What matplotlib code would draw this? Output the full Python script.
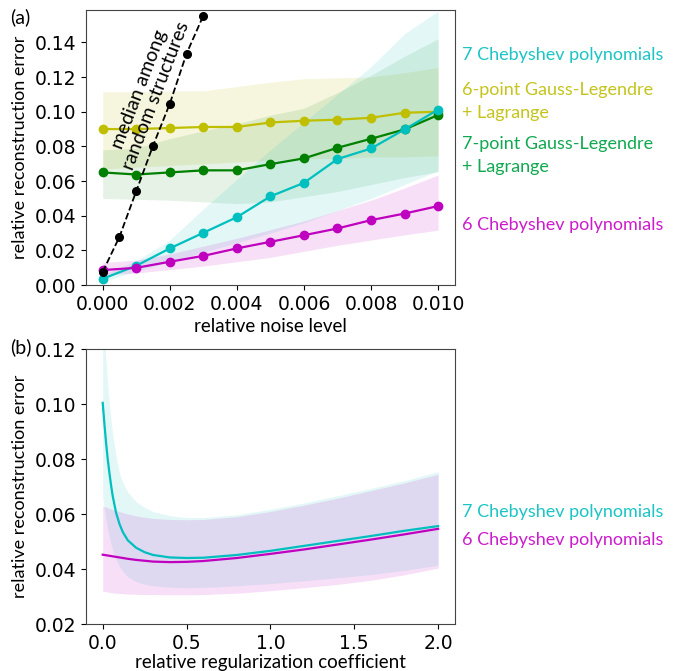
import numpy as np
import matplotlib
matplotlib.use("Agg")
import matplotlib.pyplot as plt

LABEL_FONT = ["Lato", "DejaVu Sans"]

# (a) reconstruction error vs. noise level
noise = [0.000, 0.001, 0.002, 0.003, 0.004, 0.005, 0.006, 0.007, 0.008, 0.009, 0.010]

cheb7 = [0.0037, 0.0112, 0.0212, 0.0302, 0.0392, 0.0512, 0.0590, 0.0727, 0.0788, 0.0898, 0.1012]
cheb7_lo = [0.0020, 0.0080, 0.0135, 0.0190, 0.0245, 0.0300, 0.0360, 0.0430, 0.0500, 0.0580, 0.0660]
cheb7_hi = [0.0060, 0.0140, 0.0260, 0.0440, 0.0610, 0.0780, 0.0940, 0.1100, 0.1260, 0.1450, 0.1580]

gl6 = [0.0900, 0.0900, 0.0906, 0.0912, 0.0912, 0.0938, 0.0948, 0.0954, 0.0965, 0.0994, 0.1000]
gl6_lo = [0.0670, 0.0680, 0.0690, 0.0700, 0.0710, 0.0720, 0.0730, 0.0730, 0.0740, 0.0740, 0.0745]
gl6_hi = [0.1115, 0.1115, 0.1120, 0.1120, 0.1145, 0.1170, 0.1190, 0.1195, 0.1200, 0.1225, 0.1255]

gl7 = [0.0650, 0.0638, 0.0650, 0.0662, 0.0662, 0.0698, 0.0731, 0.0792, 0.0844, 0.0898, 0.0981]
gl7_lo = [0.0500, 0.0495, 0.0490, 0.0480, 0.0470, 0.0480, 0.0510, 0.0540, 0.0580, 0.0620, 0.0654]
gl7_hi = [0.0780, 0.0790, 0.0845, 0.0890, 0.0930, 0.0980, 0.1020, 0.1110, 0.1210, 0.1320, 0.1420]

cheb6 = [0.0087, 0.0100, 0.0135, 0.0169, 0.0212, 0.0250, 0.0288, 0.0327, 0.0375, 0.0413, 0.0456]
cheb6_lo = [0.0060, 0.0070, 0.0090, 0.0110, 0.0135, 0.0160, 0.0195, 0.0230, 0.0260, 0.0290, 0.0317]
cheb6_hi = [0.0130, 0.0145, 0.0180, 0.0225, 0.0270, 0.0320, 0.0370, 0.0430, 0.0490, 0.0560, 0.0635]

random_noise = [0.0000, 0.0005, 0.0010, 0.0015, 0.0020, 0.0025, 0.0030]
random_median = [0.0077, 0.0279, 0.0542, 0.0804, 0.1046, 0.1335, 0.1554]

# (b) reconstruction error vs. regularization coefficient
reg = [0.0, 0.01, 0.02, 0.03, 0.04, 0.05, 0.06, 0.08, 0.1, 0.12, 0.15, 0.2,
       0.25, 0.3, 0.4, 0.5, 0.6, 0.8, 1.0, 1.2, 1.4, 1.6, 1.8, 2.0]

reg_cheb7 = [0.1005, 0.0930, 0.0860, 0.0800, 0.0750, 0.0705, 0.0665, 0.0605,
             0.0565, 0.0535, 0.0505, 0.0478, 0.0462, 0.0452, 0.0443, 0.0441,
             0.0442, 0.0452, 0.0467, 0.0485, 0.0503, 0.0521, 0.0540, 0.0557]
reg_cheb7_lo = [0.0660, 0.0620, 0.0580, 0.0545, 0.0515, 0.0490, 0.0470, 0.0435,
                0.0410, 0.0392, 0.0372, 0.0355, 0.0345, 0.0340, 0.0335, 0.0333,
                0.0334, 0.0340, 0.0348, 0.0358, 0.0369, 0.0381, 0.0396, 0.0415]
reg_cheb7_hi = [0.1350, 0.1250, 0.1160, 0.1070, 0.1000, 0.0940, 0.0890, 0.0810,
                0.0750, 0.0715, 0.0680, 0.0645, 0.0625, 0.0610, 0.0595, 0.0588,
                0.0588, 0.0598, 0.0618, 0.0641, 0.0667, 0.0694, 0.0722, 0.0755]

reg_cheb6 = [0.0453, 0.0452, 0.0451, 0.0450, 0.0449, 0.0448, 0.0447, 0.0445,
             0.0443, 0.0441, 0.0438, 0.0434, 0.0431, 0.0428, 0.0426, 0.0427,
             0.0430, 0.0441, 0.0456, 0.0472, 0.0490, 0.0508, 0.0527, 0.0547]
reg_cheb6_lo = [0.0320, 0.0319, 0.0318, 0.0317, 0.0316, 0.0315, 0.0314, 0.0313,
                0.0312, 0.0311, 0.0310, 0.0309, 0.0308, 0.0308, 0.0307, 0.0307,
                0.0308, 0.0313, 0.0322, 0.0333, 0.0345, 0.0360, 0.0380, 0.0404]
reg_cheb6_hi = [0.0630, 0.0628, 0.0626, 0.0623, 0.0621, 0.0619, 0.0617, 0.0613,
                0.0610, 0.0606, 0.0601, 0.0594, 0.0589, 0.0585, 0.0581, 0.0580,
                0.0581, 0.0591, 0.0610, 0.0633, 0.0658, 0.0686, 0.0714, 0.0745]

CYAN, YELLOW, GREEN, MAGENTA = "c", "y", "g", "m"

fig = plt.figure(figsize=(6.82, 6.71), dpi=100)
ax1 = fig.add_axes([0.126, 0.575, 0.541, 0.410])
ax2 = fig.add_axes([0.126, 0.0696, 0.541, 0.410])

# panel (a)
for mid, lo, hi, col, a in [(gl6, gl6_lo, gl6_hi, YELLOW, 0.13),
                            (gl7, gl7_lo, gl7_hi, GREEN, 0.10),
                            (cheb7, cheb7_lo, cheb7_hi, CYAN, 0.11),
                            (cheb6, cheb6_lo, cheb6_hi, MAGENTA, 0.12)]:
    ax1.fill_between(noise, lo, hi, color=col, alpha=a, lw=0)
for mid, col in [(gl6, YELLOW), (gl7, GREEN), (cheb7, CYAN), (cheb6, MAGENTA)]:
    ax1.plot(noise, mid, "-o", color=col, lw=1.6, ms=6)
ax1.plot(random_noise, random_median, "k--o", lw=1.3, ms=5.5)

ax1.text(0.00135, 0.1110, "median among\nrandom structures", rotation=69,
         ha="center", va="center", multialignment="center",
         fontsize=14, family=LABEL_FONT, linespacing=1.05)

ax1.set_xlim(-0.0005, 0.0105)
ax1.set_ylim(0, 0.1586)
ax1.set_xticks([0.000, 0.002, 0.004, 0.006, 0.008, 0.010])
ax1.set_xticklabels(["0.000", "0.002", "0.004", "0.006", "0.008", "0.010"])
ax1.set_yticks([0.00, 0.02, 0.04, 0.06, 0.08, 0.10, 0.12, 0.14])
ax1.set_yticklabels(["0.00", "0.02", "0.04", "0.06", "0.08", "0.10", "0.12", "0.14"])
ax1.set_xlabel("relative noise level", fontsize=13.5, family=LABEL_FONT, labelpad=3)
ax1.set_ylabel("relative reconstruction error", fontsize=13, family=LABEL_FONT,
               labelpad=5)

# panel (b)
ax2.fill_between(reg, reg_cheb7_lo, reg_cheb7_hi, color=CYAN, alpha=0.11, lw=0)
ax2.fill_between(reg, reg_cheb6_lo, reg_cheb6_hi, color=MAGENTA, alpha=0.12, lw=0)
ax2.plot(reg, reg_cheb7, color=CYAN, lw=1.6)
ax2.plot(reg, reg_cheb6, color=MAGENTA, lw=1.6)

ax2.set_xlim(-0.1, 2.1)
ax2.set_ylim(0.02, 0.12)
ax2.set_xticks([0.0, 0.5, 1.0, 1.5, 2.0])
ax2.set_yticks([0.02, 0.04, 0.06, 0.08, 0.10, 0.12])
ax2.set_yticklabels(["0.02", "0.04", "0.06", "0.08", "0.10", "0.12"])
ax2.set_xlabel("relative regularization coefficient", fontsize=13.5,
               family=LABEL_FONT, labelpad=1)
ax2.set_ylabel("relative reconstruction error", fontsize=13, family=LABEL_FONT,
               labelpad=5)

for ax in (ax1, ax2):
    ax.tick_params(labelsize=13.5)
    for sp in ax.spines.values():
        sp.set_color("#444444")

# series names to the right of the panels
def side_label(y_px, text, color):
    fig.text(462 / 682, 1 - y_px / 671, text, color=color, fontsize=13,
             family=LABEL_FONT, ha="left", va="center")

side_label(55, "7 Chebyshev polynomials", "#1cc4c4")
side_label(90, "6-point Gauss-Legendre", "#c4c41c")
side_label(113, "+ Lagrange", "#c4c41c")
side_label(144, "7-point Gauss-Legendre", "#10a850")
side_label(167, "+ Lagrange", "#10a850")
side_label(225, "6 Chebyshev polynomials", "#cc1ccc")
side_label(512, "7 Chebyshev polynomials", "#1cc4c4")
side_label(540, "6 Chebyshev polynomials", "#cc1ccc")

fig.text(10 / 682, 1 - 17 / 671, "(a)", fontsize=14, family=LABEL_FONT, va="center")
fig.text(10 / 682, 1 - 347 / 671, "(b)", fontsize=14, family=LABEL_FONT, va="center")

fig.savefig("out.png", dpi=100)
